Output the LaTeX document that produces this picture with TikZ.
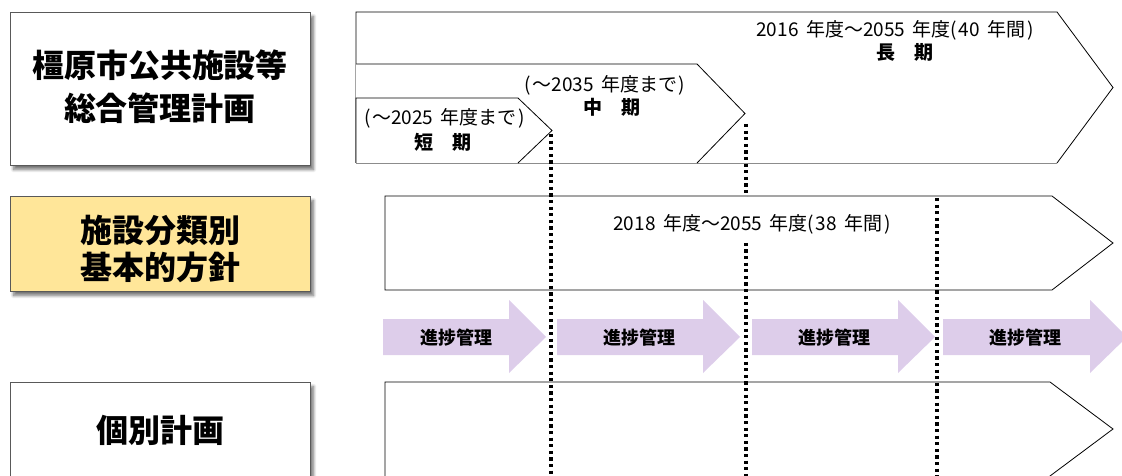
\documentclass[tikz,border=0pt]{standalone}
\usepackage{fontspec}
\setmainfont{Noto Sans CJK JP}
\usetikzlibrary{shadows.blur}
\definecolor{boxgray}{HTML}{595959}
\definecolor{yel}{HTML}{FFE699}
\definecolor{lav}{HTML}{DDCDEA}
\newcommand{\hs}{\hspace{0.4em}}
\newcommand{\lpar}{(\hspace{0.08em}}
\newcommand{\rpar}{\hspace{0.08em})}
\begin{document}
\begin{tikzpicture}[x=1pt,y=-1pt,
  titlebox/.style={draw=boxgray,line width=1pt,anchor=north west,inner sep=0pt,
    blur shadow={shadow xshift=3pt,shadow yshift=-4pt,shadow blur steps=8,shadow blur radius=3pt,shadow opacity=55}},
  titletext/.style={font=\fontsize{32}{43}\selectfont\bfseries,align=center,inner sep=0pt},
  pent/.style={draw=black,line width=0.8pt,line join=miter},
  pentbottom/.style={draw=black!45,line width=0.8pt},
  span/.style={font=\fontsize{19}{20}\selectfont,inner sep=0pt},
  term/.style={font=\fontsize{19}{20}\selectfont\bfseries,inner sep=0pt},
  dotline/.style={line width=3.6pt,dash pattern=on 3.2pt off 3.4pt},
  progress/.style={fill=lav},
  progtext/.style={font=\fontsize{18}{20}\selectfont\bfseries,inner sep=0pt}]
\useasboundingbox (0,0) rectangle (1122,476);
\clip (0,0) rectangle (1122,476);

% left boxes
\node[titlebox,fill=white,minimum width=300pt,minimum height=153pt] (plan) at (10,12) {};
\node[titletext] (plantext) at (160,86.5) {橿原市公共施設等\\総合管理計画};
\node[titlebox,fill=yel,minimum width=300pt,minimum height=95pt] (policy) at (10,196) {};
\node[titletext,font=\fontsize{32}{37}\selectfont\bfseries] (policytext) at (160,248.5) {施設分類別\\基本的方針};
\node[titlebox,fill=white,minimum width=300pt,minimum height=130pt] (indiv) at (10,382) {};
\node[titletext] (indivtext) at (160,430) {個別計画};

% long term
\path[fill=white] (356,163) -- (356,12) -- (1057,12) -- (1113,87.5) -- (1057,163) -- cycle;
\draw[pent] (356,163) -- (356,12) -- (1057,12) -- (1113,87.5) -- (1057,163);
\draw[pentbottom] (356,163) -- (1057,163);
% mid term
\path[fill=white] (356,163) -- (356,64) -- (697,64) -- (745,113.5) -- (697,163) -- cycle;
\draw[pent] (356,64) -- (697,64) -- (745,113.5) -- (697,163);
\draw[pentbottom] (535,163) -- (697,163);
% short term
\path[fill=white] (356,163) -- (356,98) -- (518,98) -- (552,130.5) -- (518,163) -- cycle;
\draw[pent] (356,163) -- (356,98) -- (518,98) -- (552,130.5) -- (518,163);
\draw[pentbottom] (356,163) -- (518,163);

\node[span] (longspan) at (895,30) {2016\hs 年度～2055\hs 年度\lpar 40\hs 年間\rpar};
\node[term] (longterm) at (905,52) {長　期};
\node[span] (midspan) at (605,85) {\lpar～2035\hs 年度まで\rpar};
\node[term] (midterm) at (612,107) {中　期};
\node[span] (shortspan) at (444.5,118) {\lpar～2025\hs 年度まで\rpar};
\node[term] (shortterm) at (443,142) {短　期};

% policy period
\draw[pent,fill=white] (385,196) -- (1052,196) -- (1113,243) -- (1052,290) -- (385,290) -- cycle;

% progress arrows
\path[progress] (383,319) -- (509,319) -- (509,300) -- (546,337) -- (509,373) -- (509,355) -- (383,355) -- cycle;
\path[progress] (557,319) -- (703,319) -- (703,300) -- (740,337) -- (703,373) -- (703,355) -- (557,355) -- cycle;
\path[progress] (752,319) -- (898,319) -- (898,300) -- (935,337) -- (898,373) -- (898,355) -- (752,355) -- cycle;
\path[progress] (943,319) -- (1090,319) -- (1090,300) -- (1127,337) -- (1090,373) -- (1090,355) -- (943,355) -- cycle;
\node[progtext] (p1) at (456,338) {進捗管理};
\node[progtext] (p2) at (639,338) {進捗管理};
\node[progtext] (p3) at (834,338) {進捗管理};
\node[progtext] (p4) at (1025,338) {進捗管理};

% individual plan period
\path[fill=white] (385,478) -- (385,382) -- (1050,382) -- (1113,429) -- (1050,476) -- (1048,478) -- cycle;
\draw[pent] (385,478) -- (385,382) -- (1050,382) -- (1113,429) -- (1050,476) -- (1048,478);

% dotted dividers
\coordinate (d1t) at (551,134);
\coordinate (d1b) at (551,478);
\coordinate (d2t) at (746,124);
\coordinate (d2b) at (746,478);
\coordinate (d3t) at (937,198);
\coordinate (d3b) at (937,478);
\draw[dotline] (d1t) -- (d1b);
\draw[dotline] (d2t) -- (d2b);
\draw[dotline] (d3t) -- (d3b);

% label of the policy period on a white ground
\node[fill=white,inner sep=0pt,minimum width=300pt,minimum height=42pt] (policyground) at (752,218) {};
\node[span] (policyspan) at (752,224.5) {2018\hs 年度～2055\hs 年度\lpar 38\hs 年間\rpar};
\end{tikzpicture}
\end{document}
